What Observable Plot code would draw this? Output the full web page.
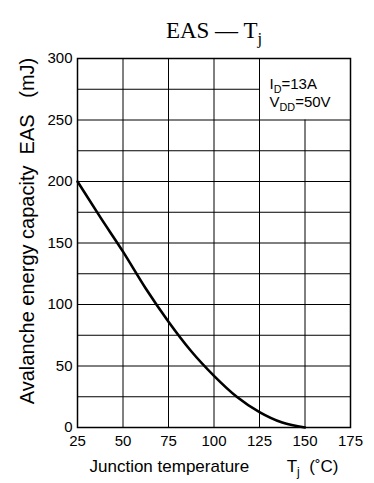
<!DOCTYPE html>
<html><head><meta charset="utf-8">
<script src="https://cdn.jsdelivr.net/npm/d3@7"></script>
<script src="https://cdn.jsdelivr.net/npm/@observablehq/plot@0.6"></script>
<style>body{margin:0;background:#fff} svg text{white-space:pre}</style>
</head><body><div id="chart"></div>
<script>
// Data
const temps = [25, 37.5, 50, 62.5, 75, 87.5, 100, 112.5, 125, 137.5, 150];
const eas   = [200, 171, 143, 113, 86, 62, 42, 25, 12.5, 4, 0];
const xTicks = [25, 50, 75, 100, 125, 150, 175];
const yTicks = [0, 50, 100, 150, 200, 250, 300];
const gridX = [50, 75, 100, 125, 150];
const gridY = [25, 50, 75, 100, 125, 150, 175, 200, 225, 250, 275];
const legendBox = {x1: 125, x2: 175, y1: 250, y2: 300};
const legendLines = ["I{D}=13A", "V{DD}=50V"];
const titleText = "EAS — T{j}";
const xLabel = "Junction temperature        T{j}  (˚C)";
const yLabel = "Avalanche energy capacity  EAS   (mJ)";

const SANS = "'Liberation Sans', Arial, Helvetica, sans-serif";
const SERIF = "'Liberation Serif', 'Times New Roman', serif";

const rows = temps.map((t, i) => ({t, e: eas[i]}));

const chart = Plot.plot({
  width: 374, height: 483,
  marginLeft: 77, marginRight: 24, marginTop: 58, marginBottom: 56,
  style: {fontFamily: SANS, fontSize: "15px", background: "white", color: "black", overflow: "visible"},
  x: {domain: [25, 175], ticks: xTicks, label: null, tickSize: 0, tickPadding: 8},
  y: {domain: [0, 300], ticks: yTicks, label: null, tickSize: 0, tickPadding: 5},
  marks: [
    Plot.ruleY(gridY, {y: d => d, x1: 25, x2: d => d > legendBox.y1 ? legendBox.x1 : 175, stroke: "black", strokeWidth: 1}),
    Plot.ruleX(gridX, {x: d => d, y1: 0, y2: d => d > legendBox.x1 ? legendBox.y1 : 300, stroke: "black", strokeWidth: 1}),
    Plot.frame({stroke: "black", strokeWidth: 1.5}),
    Plot.line(rows, {x: "t", y: "e", curve: "monotone-x", stroke: "black", strokeWidth: 2.6}),
    Plot.text([legendLines[0]], {frameAnchor: "top-right", dx: -81, dy: 20, textAnchor: "start", fontSize: 15}),
    Plot.text([legendLines[1]], {frameAnchor: "top-right", dx: -81, dy: 38, textAnchor: "start", fontSize: 15}),
    Plot.text([titleText], {frameAnchor: "top", dy: -37, fontFamily: SERIF, fontSize: 23}),
    Plot.text([xLabel], {frameAnchor: "bottom", dy: 44, fontSize: 17}),
    Plot.text([yLabel], {frameAnchor: "left", textAnchor: "middle", dx: -50, dy: -12, rotate: -90, fontSize: 20})
  ]
});

document.getElementById("chart").appendChild(chart);

// Render "{...}" as subscripts
d3.select(chart).selectAll("text").each(function() {
  const el = d3.select(this);
  const s = el.text();
  if (!s.includes("{")) return;
  const fs = parseFloat(getComputedStyle(this).fontSize) || 15;
  el.text(null);
  const parts = s.split(/(\{[^}]*\})/).filter(p => p);
  let shifted = 0;
  for (const p of parts) {
    if (p.startsWith("{")) {
      const sh = 0.26 * fs;
      el.append("tspan").attr("font-size", (0.72 * fs) + "px").attr("dy", sh).text(p.slice(1, -1));
      shifted = sh;
    } else {
      const t = el.append("tspan").text(p);
      if (shifted) { t.attr("dy", -shifted); shifted = 0; }
    }
  }
});
</script>
</body></html>
